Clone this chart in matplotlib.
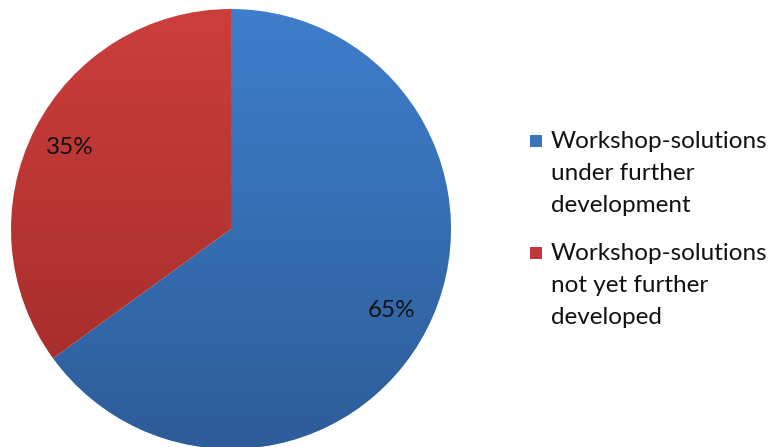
import numpy as np
import matplotlib
matplotlib.use("Agg")
import matplotlib.pyplot as plt
from matplotlib.patches import Rectangle
from matplotlib.colors import LinearSegmentedColormap

# Datos del gráfico
labels = ["Workshop-solutions\nunder further\ndevelopment",
          "Workshop-solutions\nnot yet further\ndeveloped"]
values = [65, 35]
pct_texts = ["65%", "35%"]

# Colores (arriba -> abajo, degradado vertical)
grad_colors = [("#3e7ecb", "#2d5d99"), ("#cc3e3b", "#9f2b28")]
legend_colors = ["#3a73bb", "#c0393a"]

plt.rcParams["font.family"] = ["Lato", "DejaVu Sans"]

W, H = 771, 447
fig = plt.figure(figsize=(W / 100, H / 100), dpi=100)
ax = fig.add_axes([11 / W, -2 / H, 440 / W, 440 / H])

wedges, _ = ax.pie(values, startangle=90, counterclock=False,
                   radius=1.0, wedgeprops=dict(linewidth=0))
ax.set_xlim(-1, 1)
ax.set_ylim(-1, 1)
ax.set_aspect("equal")
ax.axis("off")

# Relleno con degradado recortado a cada porción
grad = np.linspace(0, 1, 256).reshape(-1, 1)
for w, (c_top, c_bot) in zip(wedges, grad_colors):
    cmap = LinearSegmentedColormap.from_list("g", [c_top, c_bot])
    w.set_facecolor("none")
    im = ax.imshow(grad, cmap=cmap, extent=(-1, 1, -1, 1),
                   aspect="auto", origin="upper", zorder=1)
    im.set_clip_path(w)

# Etiquetas de porcentaje
pctdistance = 0.82
angle = 90.0
for v, txt in zip(values, pct_texts):
    span = 360.0 * v / sum(values)
    mid = np.deg2rad(angle - span / 2)
    angle -= span
    ax.text(pctdistance * np.cos(mid), pctdistance * np.sin(mid), txt,
            ha="center", va="center", fontsize=17.5, color="#111111", zorder=3)

# Leyenda manual (posiciones en píxeles)
entry_top = [141, 253]
line_gap = 32
for lab, col, y0 in zip(labels, legend_colors, entry_top):
    fig.patches.append(Rectangle((530 / W, 1 - (y0 + 6) / H), 12 / W, 12 / H,
                                 transform=fig.transFigure, facecolor=col,
                                 edgecolor="none"))
    for i, line in enumerate(lab.split("\n")):
        fig.text(551 / W, 1 - (y0 + i * line_gap) / H, line,
                 ha="left", va="center", fontsize=17.5, color="#111111")

fig.savefig("out.png", dpi=100)
